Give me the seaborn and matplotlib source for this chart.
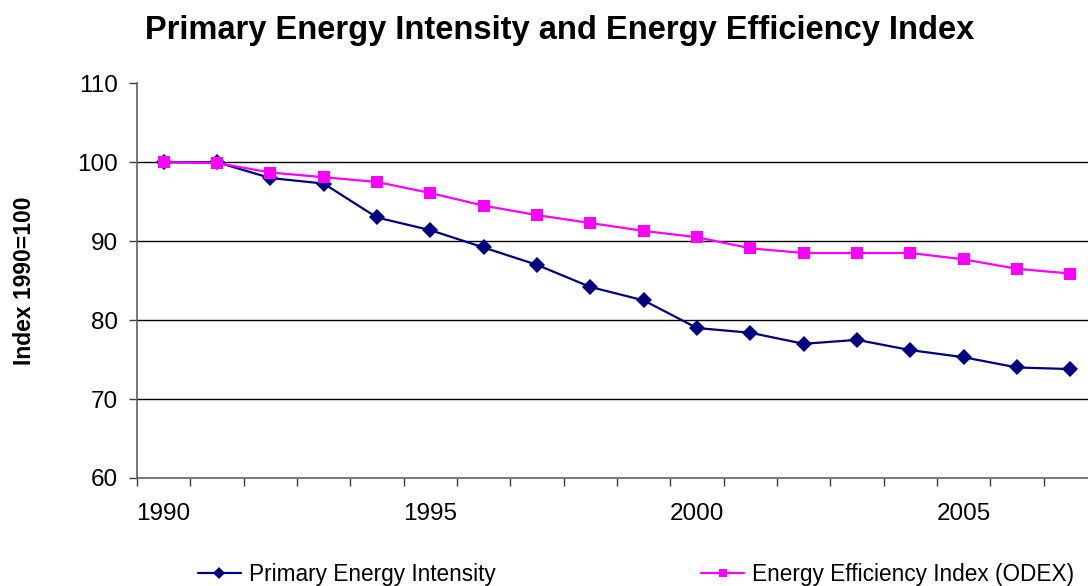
import numpy as np
import pandas as pd
import matplotlib
matplotlib.use("Agg")
import matplotlib.pyplot as plt
import seaborn as sns

years = list(range(1990, 2008))
pei = [100.0, 100.0, 98.0, 97.3, 93.0, 91.4, 89.2, 87.0, 84.2, 82.5,
       79.0, 78.4, 77.0, 77.5, 76.2, 75.3, 74.0, 73.8]
odex = [100.0, 99.9, 98.7, 98.1, 97.5, 96.1, 94.5, 93.3, 92.3, 91.3,
        90.5, 89.1, 88.5, 88.5, 88.5, 87.7, 86.5, 85.9]
series_names = ["Primary Energy Intensity", "Energy Efficiency Index (ODEX)"]
y_ticks = [60, 70, 80, 90, 100, 110]
x_labels = [1990, 1995, 2000, 2005]

df = pd.DataFrame({
    "year": years * 2,
    "value": pei + odex,
    "series": [series_names[0]] * len(years) + [series_names[1]] * len(years),
})

sns.set_style("white")
plt.rcParams["font.family"] = ["Liberation Sans", "DejaVu Sans"]
plt.rcParams["text.color"] = "black"
plt.rcParams["axes.labelcolor"] = "black"
plt.rcParams["xtick.color"] = "black"
plt.rcParams["ytick.color"] = "black"

fig = plt.figure(figsize=(10.88, 5.86), dpi=100)
ax = fig.add_axes([137 / 1088, 1 - 478 / 586, 960 / 1088, (478 - 83.3) / 586])

sns.lineplot(data=df, x="year", y="value", hue="series", style="series",
             palette={series_names[0]: "#000080", series_names[1]: "#FF00FF"},
             markers={series_names[0]: "D", series_names[1]: "s"},
             dashes=False, markersize=8, linewidth=1.6,
             markeredgewidth=0, ax=ax)

ax.set_xlim(years[0] - 0.5, years[-1] + 0.5)
ax.set_ylim(y_ticks[0], y_ticks[-1])
ax.set_yticks(y_ticks)
ax.set_xticks(x_labels)
ax.set_xticks(np.arange(years[0] - 0.5, years[-1] + 1.0, 1.0), minor=True)
ax.tick_params(axis="x", which="major", length=0, pad=18, labelsize=17.5)
ax.tick_params(axis="x", which="minor", length=6, width=1, color="#404040",
               direction="out", bottom=True)
ax.tick_params(axis="y", length=6, width=1, color="#404040", direction="out",
               left=True, labelsize=17.5, pad=8)

for yv in y_ticks[1:-1]:
    ax.axhline(yv, color="black", linewidth=1.0, zorder=0)

for s in ["top", "right"]:
    ax.spines[s].set_visible(False)
for s in ["left", "bottom"]:
    ax.spines[s].set_color("#606060")
    ax.spines[s].set_linewidth(1.2)

ax.set_xlabel("")
ax.set_ylabel("Index 1990=100", fontsize=16.5, fontweight="bold")
ax.yaxis.set_label_coords((36 - 137) / 960, 0.5)
fig.suptitle("Primary Energy Intensity and Energy Efficiency Index",
             fontsize=23.5, fontweight="bold", x=560 / 1088, y=1 - 31 / 586,
             va="center")

handles, labels = ax.get_legend_handles_labels()
ax.legend(handles, labels, loc="center", bbox_to_anchor=(636 / 1088, 1 - 574 / 586),
          bbox_transform=fig.transFigure, ncol=2, frameon=False, fontsize=16.3,
          columnspacing=9.1, handlelength=1.9, handletextpad=0.35, markerscale=0.8)

fig.savefig("out.png", dpi=100)
